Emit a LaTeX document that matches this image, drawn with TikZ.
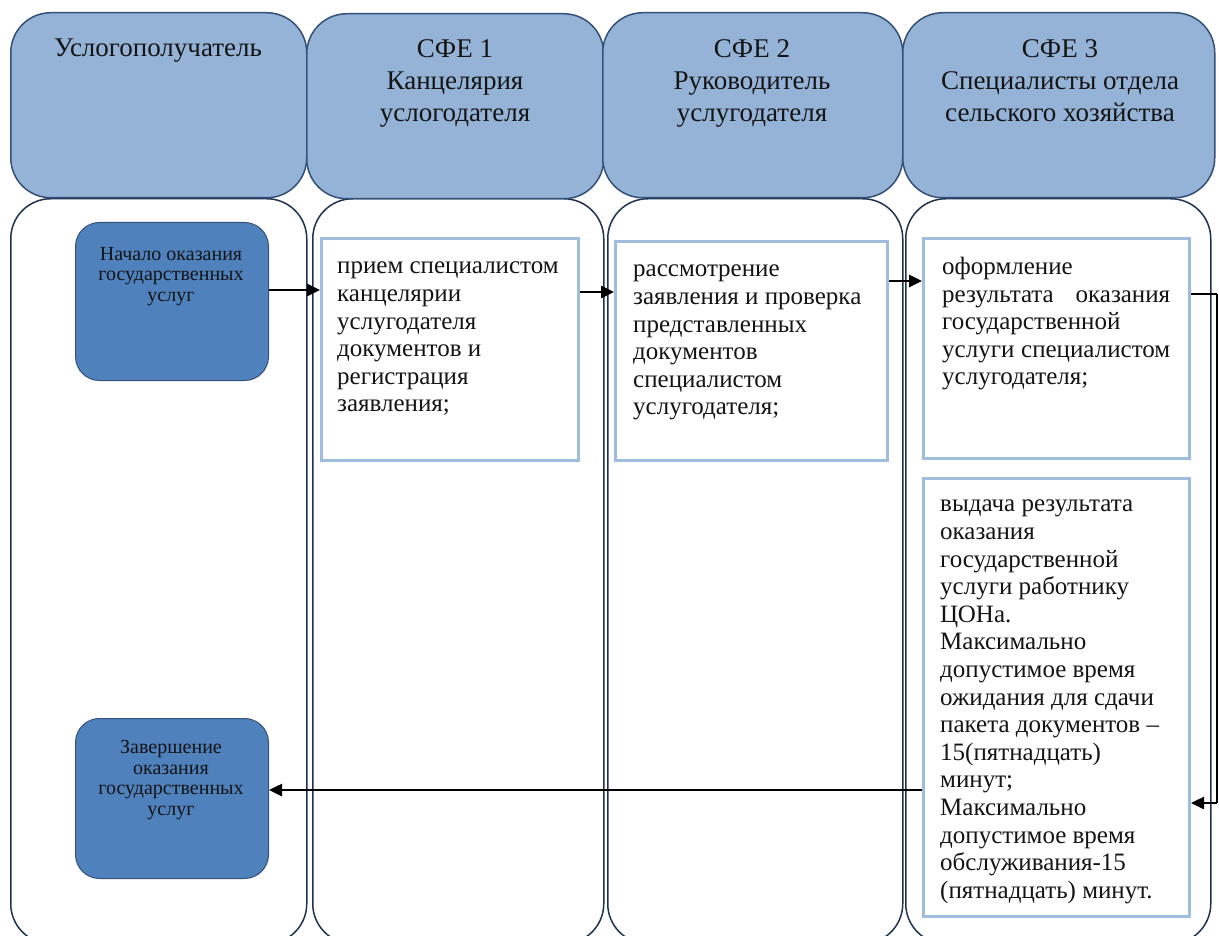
\documentclass[tikz,border=0pt]{standalone}
\usepackage{fontspec}
\setmainfont{Liberation Serif}
\usetikzlibrary{arrows.meta}
\definecolor{hdrfill}{RGB}{149,179,215}
\definecolor{hdrline}{RGB}{52,80,118}
\definecolor{laneline}{RGB}{31,50,80}
\definecolor{startfill}{RGB}{79,129,189}
\definecolor{boxline}{RGB}{160,188,222}
\definecolor{ink}{RGB}{20,20,20}
\begin{document}
\begin{tikzpicture}[x=1pt,y=-1pt,
 header/.style={draw=hdrline, line width=1.5pt, fill=hdrfill, rounded corners=40pt, anchor=north west, inner sep=0pt, minimum height=185pt},
 lane/.style={draw=laneline, line width=1.5pt, fill=white, rounded corners=40pt, anchor=north west, inner sep=0pt, minimum height=745pt},
 endpt/.style={draw=hdrline, line width=1pt, fill=startfill, rounded corners=24pt, anchor=north west, inner sep=0pt, minimum width=193pt},
 stepbox/.style={draw=boxline, line width=3pt, fill=white, anchor=north west, inner sep=0pt},
 hdrtext/.style={anchor=north, align=center, text=ink, font=\fontsize{27}{32}\selectfont, inner sep=0pt},
 boxtext/.style={anchor=north west, align=left, text=ink, font=\fontsize{25}{27.6}\selectfont, inner sep=0pt},
 smalltext/.style={anchor=north, align=center, text=ink, font=\fontsize{20}{20.6}\selectfont, inner sep=0pt},
 conn/.style={line width=2.5pt, -{Triangle[length=13pt,width=12pt]}},
 plainline/.style={line width=2.2pt},
 thinline/.style={line width=1.2pt},
]
\clip (0,0) rectangle (1219,936);
\fill[white] (0,0) rectangle (1219,936);
% lanes
\node[lane, minimum width=296pt] (L1) at (10,198) {};
\node[lane, minimum width=291pt] (L2) at (312,198) {};
\node[lane, minimum width=295pt] (L3) at (607,198) {};
\node[lane, minimum width=305pt] (L4) at (905,198) {};
% headers
\node[header, minimum width=296pt] (H1) at (10,12) {};
\node[header, minimum width=297pt] (H2) at (306,13) {};
\node[header, minimum width=300pt] (H3) at (602,12) {};
\node[header, minimum width=312pt] (H4) at (902,12) {};
\node[hdrtext] (h1t) at (158,39) {Услогополучатель};
\node[hdrtext] (h2t) at (455,39) {СФЕ 1\\Канцелярия\\услогодателя};
\node[hdrtext] (h3t) at (752,39) {СФЕ 2\\Руководитель\\услугодателя};
\node[hdrtext] (h4t) at (1060,39) {СФЕ 3\\Специалисты отдела\\сельского хозяйства};
% start / end
\node[endpt, minimum height=158pt] (start) at (75,222) {};
\node[smalltext] (startt) at (171,247) {Начало оказания\\государственных\\услуг};
\node[endpt, minimum height=160pt] (finish) at (75,718) {};
\node[smalltext] (finisht) at (171,740) {Завершение\\оказания\\государственных\\услуг};
% step boxes
\node[stepbox, minimum width=257pt, minimum height=222pt] (box1) at (320,237) {};
\node[stepbox, minimum width=272pt, minimum height=219pt] (box2) at (614,240) {};
\node[stepbox, minimum width=266pt, minimum height=220pt] (box3) at (922,237) {};
\node[stepbox, minimum width=266pt, minimum height=438pt] (box4) at (922,477) {};
\node[boxtext] (t1) at (337,262) {прием специалистом\\канцелярии\\услугодателя\\документов и\\регистрация\\заявления;};
\node[boxtext] (t2) at (633,265) {рассмотрение\\заявления и проверка\\представленных\\документов\\специалистом\\услугодателя;};
\node[boxtext, text width=228pt] (t3) at (942,257) {оформление\\результата\hskip 0pt plus 1fill оказания\\государственной\\услуги\hskip 0pt plus 1fill специалистом\\услугодателя;};
\node[boxtext] (t4) at (940,500) {выдача результата\\оказания\\государственной\\услуги работнику\\ЦОНа.\\Максимально\\допустимое время\\ожидания для сдачи\\пакета документов –\\15(пятнадцать)\\минут;\\Максимально\\допустимое время\\обслуживания-15\\(пятнадцать) минут.};
% connector coordinates
\coordinate (a1) at (0,290);
\coordinate (a2) at (580,292);
\coordinate (a3) at (0,281);
\coordinate (r1) at (1217,294);
\coordinate (r2) at (1217,803);
\coordinate (a5) at (0,790);
% connectors
\draw[conn] (start.east |- a1) -- (box1.west |- a1);
\draw[conn] (a2) -- (box2.west |- a2);
\draw[conn] (box2.east |- a3) -- (box3.west |- a3);
\draw[plainline] (box3.east |- r1) -- (r1);
\draw[thinline] (r1) -- (r2);
\draw[conn] (r2) -- (box4.east |- r2);
\draw[conn] (box4.west |- a5) -- (finish.east |- a5);
\end{tikzpicture}
\end{document}
